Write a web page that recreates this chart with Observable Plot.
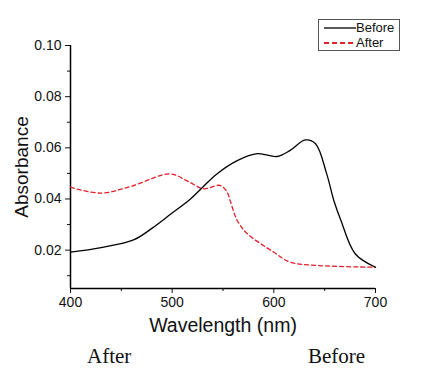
<!DOCTYPE html>
<html><head><meta charset="utf-8">
<script src="https://cdn.jsdelivr.net/npm/d3@7"></script>
<script src="https://cdn.jsdelivr.net/npm/@observablehq/plot@0.6"></script>
<style>
body{margin:0;background:#fff;}
#wrap{position:relative;width:428px;height:383px;}
.leg{position:absolute;left:318px;top:19px;width:82px;height:32px;border:1px solid #555;background:#fff;font:13px "Liberation Sans",Arial,sans-serif;color:#111;box-sizing:border-box;}
.leg div{position:absolute;left:3px;display:flex;align-items:center;}
.cap{position:absolute;top:344px;font:21px "Liberation Serif","Times New Roman",serif;color:#111;}
</style></head><body>
<div id="wrap"></div>
<script>
const wavelength_before = [400, 430, 462, 480, 499, 518, 531, 544, 564, 584, 603, 616, 631, 641, 652, 659, 666, 680, 700];
const absorbance_before = [0.0192, 0.0210, 0.0240, 0.0285, 0.0342, 0.0400, 0.0450, 0.0498, 0.0550, 0.0577, 0.0566, 0.0590, 0.0631, 0.0616, 0.0498, 0.0394, 0.0316, 0.0186, 0.0133];
const wavelength_after = [400, 430, 460, 498, 515, 531, 547, 554, 557, 564, 574, 600, 616, 643, 700];
const absorbance_after = [0.0446, 0.0423, 0.0450, 0.0498, 0.0470, 0.0440, 0.0453, 0.0427, 0.0394, 0.0316, 0.0264, 0.0192, 0.0153, 0.0140, 0.0133];
const xTicks = [400, 500, 600, 700];
const xMinor = [450, 550, 650];
const yTicks = [0.02, 0.04, 0.06, 0.08, 0.10];
const yMinor = [0.01, 0.03, 0.05, 0.07, 0.09];
const seriesNames = ["Before", "After"];
const captions = ["After", "Before"];

const before = wavelength_before.map((w,i)=>({w, a: absorbance_before[i]}));
const after = wavelength_after.map((w,i)=>({w, a: absorbance_after[i]}));

const chart = Plot.plot({
  width: 428, height: 383,
  marginLeft: 70, marginRight: 53, marginTop: 45, marginBottom: 95,
  style: {fontFamily: '"Liberation Sans", Arial, sans-serif', color: "#111", background: "#fff"},
  x: {domain: [400, 700]},
  y: {domain: [0.005, 0.10]},
  marks: [
    Plot.axisX({ticks: xTicks, tickSize: 5, tickPadding: 4, fontSize: 14, label: null, tickFormat: d3.format("d")}),
    Plot.axisX({ticks: xMinor, tickSize: 3, tickFormat: null, label: null, text: null}),
    Plot.axisX({ticks: [], label: "Wavelength (nm)", labelAnchor: "center", labelArrow: "none", labelOffset: 43, fontSize: 19.5}),
    Plot.axisY({ticks: yTicks, tickSize: 5, tickPadding: 4, fontSize: 14, label: null, tickFormat: d3.format(".2f")}),
    Plot.axisY({ticks: yMinor, tickSize: 3, label: null, text: null}),
    Plot.axisY({ticks: [], label: "Absorbance", labelAnchor: "center", labelArrow: "none", labelOffset: 56, fontSize: 19}),
    Plot.ruleX([400], {stroke: "#000", strokeWidth: 1.5}),
    Plot.ruleY([0.005], {stroke: "#000", strokeWidth: 1.5}),
    Plot.line(after, {x: "w", y: "a", stroke: "#e0202a", strokeWidth: 1.3, strokeDasharray: "4,3", curve: "catmull-rom"}),
    Plot.line(before, {x: "w", y: "a", stroke: "#000", strokeWidth: 1.3, curve: "catmull-rom"})
  ]
});
const wrap = document.getElementById("wrap");
wrap.appendChild(chart);

const leg = document.createElement("div");
leg.className = "leg";
leg.innerHTML = `<div style="top:0px"><svg width="34" height="14"><line x1="2" x2="34" y1="7" y2="7" stroke="#000" stroke-width="1.3"/></svg><span>${seriesNames[0]}</span></div>
<div style="top:15px"><svg width="34" height="14"><line x1="2" x2="34" y1="7" y2="7" stroke="#e0202a" stroke-width="1.8" stroke-dasharray="5,3"/></svg><span>${seriesNames[1]}</span></div>`;
wrap.appendChild(leg);

const c1 = document.createElement("div"); c1.className="cap"; c1.style.left="87px"; c1.textContent = captions[0]; wrap.appendChild(c1);
const c2 = document.createElement("div"); c2.className="cap"; c2.style.left="308px"; c2.textContent = captions[1]; wrap.appendChild(c2);
</script>
</body></html>
